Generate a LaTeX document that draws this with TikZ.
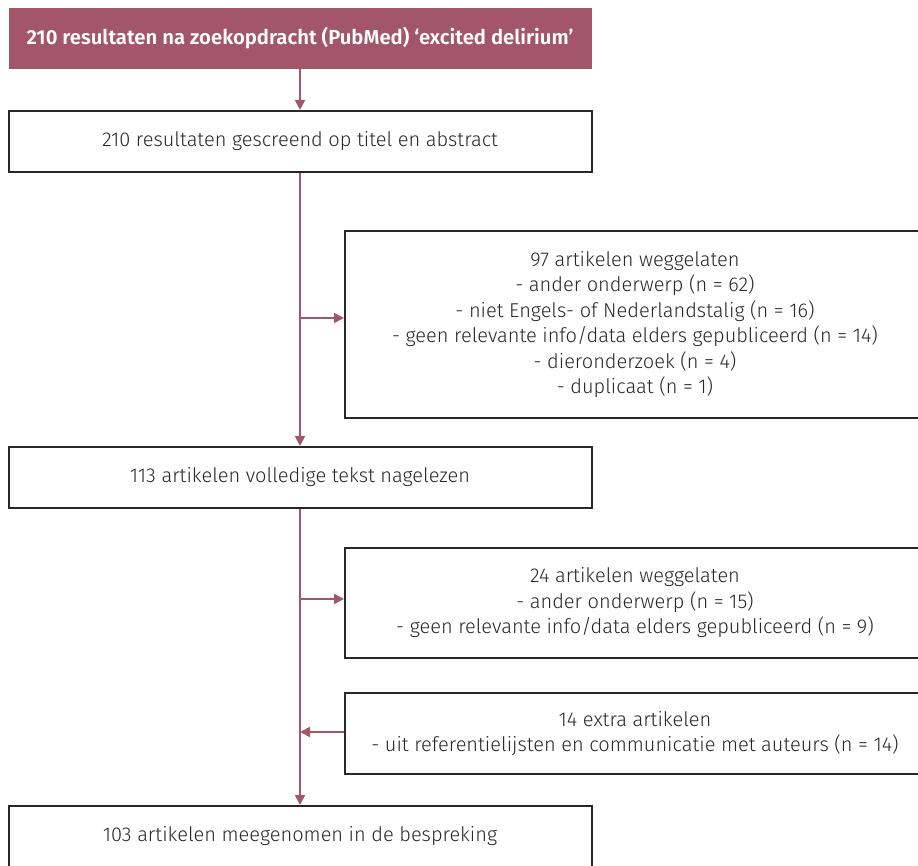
\documentclass[tikz,border=0pt]{standalone}
\usepackage{fontspec}
\setmainfont{Fira Sans}[UprightFont={* Light}, BoldFont={* SemiBold}]
\usetikzlibrary{positioning, arrows.meta}
\definecolor{mauve}{RGB}{163,85,106}
\definecolor{ink}{RGB}{40,40,40}

\begin{document}
\begin{tikzpicture}[x=1pt, y=-1pt,
  every node/.style={inner sep=0pt, text=ink, font=\fontsize{20}{25.5}\selectfont},
  head/.style={fill=mauve, text=white, font=\fontsize{20.3}{25}\selectfont\bfseries,
               minimum width=583pt, minimum height=61pt},
  stage/.style={draw=ink, line width=2pt, fill=white,
                minimum width=583pt, minimum height=61pt},
  side/.style={draw=ink, line width=2pt, fill=white, align=center,
               minimum width=580pt, anchor=north west},
  arrow/.style={-{Triangle[length=10pt,width=10pt]}, mauve, line width=1.8pt}]
\useasboundingbox (0,0) rectangle (918,866);

\node[head] (search) at (300,38.5) {210 resultaten na zoekopdracht (PubMed) ‘excited delirium’};
\node[stage] (screen) at (300,141.5) {210 resultaten gescreend op titel en abstract};
\node[stage] (fulltext) at (300,477.5) {113 artikelen volledige tekst nagelezen};
\node[stage] (incl) at (300,836.5) {103 artikelen meegenomen in de bespreking};

\node[side, minimum height=187pt] (excl1) at (344,230) {97 artikelen weggelaten\\
  - ander onderwerp (n = 62)\\
  - niet Engels- of Nederlandstalig (n = 16)\\
  - geen relevante info/data elders gepubliceerd (n = 14)\\
  - dieronderzoek (n = 4)\\
  - duplicaat (n = 1)};
\node[side, minimum height=110pt] (excl2) at (344,547) {24 artikelen weggelaten\\
  - ander onderwerp (n = 15)\\
  - geen relevante info/data elders gepubliceerd (n = 9)};
\node[side, minimum height=81pt] (extra) at (344,692) {14 extra artikelen\\
  - uit referentielijsten en communicatie met auteurs (n = 14)};

\coordinate (b1) at (300,318);
\coordinate (b2) at (300,599);
\coordinate (b3) at (300,732);

\draw[arrow] (search) -- (screen);
\draw[arrow] (screen) -- (fulltext);
\draw[arrow] (fulltext) -- (incl);
\draw[arrow] (b1) -- (b1 -| excl1.west);
\draw[arrow] (b2) -- (b2 -| excl2.west);
\draw[arrow] (extra.west |- b3) -- (b3);
\end{tikzpicture}
\end{document}
